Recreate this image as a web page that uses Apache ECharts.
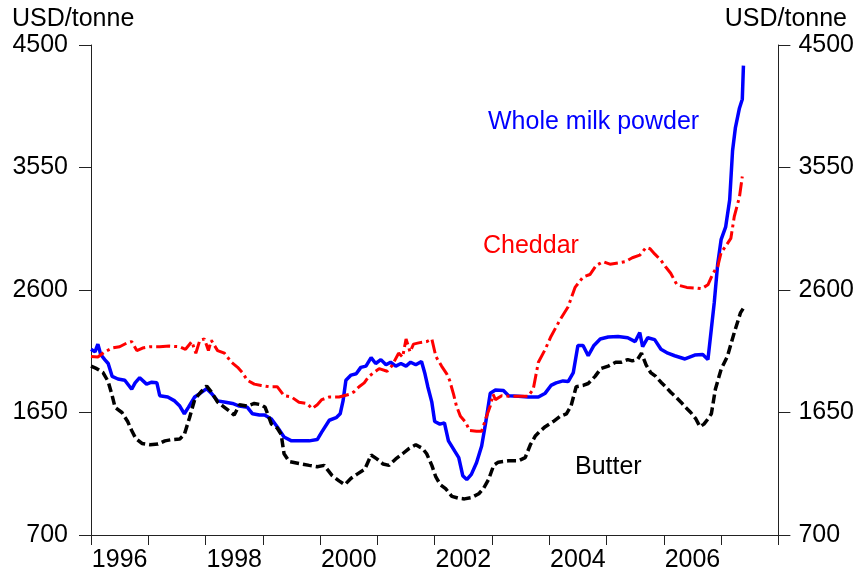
<!DOCTYPE html>
<html>
<head>
<meta charset="utf-8">
<script src="https://cdn.jsdelivr.net/npm/echarts@6/dist/echarts.min.js"></script>
<style>
html,body{margin:0;padding:0;background:#fff;}
#chart{width:857px;height:573px;}
</style>
</head>
<body>
<div id="chart"></div>
<script>
// Year categories shown on the axis (labels every other year)
const yearCategories = ['1996','1997','1998','1999','2000','2001','2002','2003','2004','2005','2006','2007'];
const yTicks = [700, 1650, 2600, 3550, 4500];

// Whole milk powder (USD/tonne)
const wmpYears = [1996.00,1996.07,1996.12,1996.17,1996.24,1996.30,1996.37,1996.47,1996.59,1996.71,1996.77,1996.85,1996.97,1997.06,1997.15,1997.20,1997.34,1997.46,1997.55,1997.63,1997.70,1997.81,1997.91,1998.02,1998.10,1998.21,1998.35,1998.47,1998.59,1998.73,1998.82,1998.94,1999.03,1999.15,1999.25,1999.37,1999.50,1999.63,1999.81,1999.95,2000.03,2000.16,2000.28,2000.35,2000.40,2000.45,2000.54,2000.63,2000.71,2000.80,2000.89,2000.97,2001.06,2001.15,2001.23,2001.32,2001.41,2001.50,2001.58,2001.67,2001.77,2001.83,2001.88,2001.95,2002.00,2002.09,2002.17,2002.24,2002.35,2002.42,2002.49,2002.56,2002.64,2002.73,2002.82,2002.89,2002.97,2003.06,2003.20,2003.29,2003.46,2003.63,2003.81,2003.93,2004.03,2004.12,2004.24,2004.33,2004.42,2004.50,2004.59,2004.68,2004.78,2004.89,2005.03,2005.20,2005.37,2005.50,2005.58,2005.63,2005.72,2005.84,2005.95,2006.07,2006.19,2006.37,2006.54,2006.68,2006.77,2006.83,2006.88,2006.94,2007.00,2007.08,2007.15,2007.20,2007.25,2007.32,2007.37,2007.39];
const wmpValues = [2140,2120,2180,2100,2060,2030,1930,1910,1900,1830,1880,1920,1870,1885,1880,1780,1770,1740,1700,1640,1690,1770,1800,1835,1800,1740,1730,1720,1700,1690,1640,1630,1630,1600,1540,1460,1430,1430,1430,1440,1500,1590,1610,1640,1740,1900,1940,1950,2000,2010,2075,2030,2060,2020,2040,2010,2030,2010,2040,2020,2045,1950,1850,1730,1580,1560,1570,1430,1350,1300,1160,1130,1170,1260,1390,1570,1800,1825,1820,1780,1776,1770,1770,1800,1860,1880,1895,1890,1960,2170,2170,2090,2170,2220,2235,2240,2230,2200,2270,2160,2230,2215,2140,2110,2090,2065,2095,2100,2060,2300,2500,2800,2990,3090,3300,3680,3860,4010,4080,4340];

// Cheddar (USD/tonne)
const cheddarYears = [1996.00,1996.12,1996.24,1996.37,1996.50,1996.63,1996.71,1996.80,1996.90,1997.03,1997.20,1997.37,1997.55,1997.65,1997.76,1997.83,1997.90,1997.98,1998.05,1998.10,1998.21,1998.33,1998.45,1998.56,1998.64,1998.73,1998.85,1998.97,1999.11,1999.25,1999.37,1999.50,1999.63,1999.77,1999.86,1999.95,2000.03,2000.16,2000.33,2000.50,2000.59,2000.68,2000.77,2000.85,2000.94,2001.03,2001.17,2001.25,2001.37,2001.44,2001.50,2001.57,2001.63,2001.72,2001.86,2001.95,2002.02,2002.12,2002.21,2002.26,2002.33,2002.38,2002.45,2002.54,2002.61,2002.73,2002.82,2002.89,2002.97,2003.02,2003.06,2003.17,2003.29,2003.46,2003.63,2003.72,2003.81,2003.93,2004.03,2004.19,2004.33,2004.45,2004.59,2004.71,2004.82,2004.94,2005.06,2005.20,2005.33,2005.45,2005.58,2005.69,2005.76,2005.84,2005.95,2006.03,2006.12,2006.23,2006.40,2006.57,2006.66,2006.77,2006.83,2006.90,2006.94,2007.00,2007.08,2007.17,2007.23,2007.32,2007.37];
const cheddarValues = [2085,2080,2120,2150,2160,2190,2200,2130,2150,2160,2160,2165,2160,2140,2200,2110,2210,2220,2130,2210,2130,2110,2040,2000,1960,1900,1870,1860,1850,1850,1780,1770,1730,1720,1680,1710,1750,1770,1770,1790,1810,1850,1880,1930,1960,1990,1970,2010,2110,2080,2220,2120,2180,2190,2200,2220,2085,2010,1950,1900,1790,1700,1620,1575,1510,1505,1505,1600,1700,1790,1750,1780,1776,1776,1776,1830,2040,2140,2240,2370,2470,2620,2700,2720,2790,2820,2800,2810,2820,2850,2870,2930,2920,2880,2830,2780,2730,2640,2620,2615,2610,2640,2700,2760,2780,2890,2940,3000,3170,3320,3480];

// Butter (USD/tonne)
const butterYears = [1996.00,1996.10,1996.21,1996.30,1996.37,1996.42,1996.54,1996.64,1996.71,1996.78,1996.89,1997.03,1997.17,1997.29,1997.41,1997.55,1997.63,1997.72,1997.81,1997.93,1998.02,1998.10,1998.21,1998.33,1998.42,1998.50,1998.59,1998.73,1998.85,1998.97,1999.04,1999.15,1999.25,1999.32,1999.37,1999.46,1999.63,1999.81,1999.95,2000.07,2000.21,2000.33,2000.43,2000.54,2000.64,2000.78,2000.89,2000.99,2001.10,2001.20,2001.32,2001.44,2001.55,2001.67,2001.79,2001.86,2001.95,2002.02,2002.10,2002.19,2002.30,2002.42,2002.52,2002.64,2002.77,2002.85,2002.94,2003.03,2003.11,2003.29,2003.46,2003.58,2003.67,2003.76,2003.84,2003.93,2004.07,2004.19,2004.30,2004.38,2004.47,2004.59,2004.68,2004.80,2004.90,2005.03,2005.16,2005.26,2005.37,2005.45,2005.54,2005.61,2005.69,2005.77,2005.86,2005.95,2006.03,2006.12,2006.21,2006.30,2006.38,2006.47,2006.56,2006.63,2006.70,2006.77,2006.83,2006.90,2007.00,2007.11,2007.23,2007.34,2007.39];
const butterValues = [2010,1990,1960,1890,1780,1690,1650,1580,1510,1450,1410,1400,1405,1430,1440,1445,1480,1610,1750,1815,1855,1810,1730,1690,1660,1630,1710,1700,1720,1710,1690,1560,1530,1480,1330,1270,1255,1240,1230,1240,1160,1120,1090,1140,1170,1210,1320,1290,1250,1240,1290,1330,1370,1400,1370,1330,1240,1150,1090,1060,1000,985,980,990,1020,1060,1130,1240,1265,1275,1275,1300,1400,1470,1505,1540,1580,1620,1640,1700,1850,1860,1875,1930,1990,2010,2040,2040,2060,2050,2060,2110,2020,1960,1930,1885,1850,1807,1770,1730,1690,1650,1600,1540,1560,1600,1640,1830,1985,2085,2270,2425,2460];

const FONT = 'Liberation Sans, Arial, sans-serif';
const pair = (xs, ys) => xs.map((x, i) => [x, ys[i]]);

const chart = echarts.init(document.getElementById('chart'), null, {renderer: 'canvas'});

const yAxisCommon = {
  type: 'value', min: yTicks[0], max: yTicks[yTicks.length - 1], interval: 950,
  splitLine: {show: false},
  axisLine: {show: true, lineStyle: {color: '#222', width: 1}},
  axisTick: {show: true, inside: false, length: 12, lineStyle: {color: '#222', width: 1}},
  axisLabel: {color: '#000', fontSize: 25, fontFamily: FONT, formatter: v => String(v)}
};

chart.setOption({
  animation: false,
  backgroundColor: '#fff',
  grid: {left: 91, right: 77, top: 45, bottom: 37, containLabel: false},
  xAxis: [
    {type: 'value', min: 1996, max: 2008, show: false},
    {type: 'category', data: yearCategories, boundaryGap: true, position: 'bottom',
     axisLine: {show: true, lineStyle: {color: '#222', width: 1}},
     axisTick: {show: true, interval: 0, length: 10, alignWithLabel: false, lineStyle: {color: '#222', width: 1}},
     axisLabel: {interval: 1, margin: 13, color: '#000', fontSize: 25, fontFamily: FONT},
     splitLine: {show: false}}
  ],
  yAxis: [
    Object.assign({}, yAxisCommon, {position: 'left', axisLabel: Object.assign({}, yAxisCommon.axisLabel, {margin: 23})}),
    Object.assign({}, yAxisCommon, {position: 'right', axisLabel: Object.assign({}, yAxisCommon.axisLabel, {margin: 20})})
  ],
  series: [
    {name: 'Whole milk powder', type: 'line', xAxisIndex: 0, yAxisIndex: 0, showSymbol: false,
     data: pair(wmpYears, wmpValues), lineStyle: {color: '#0000FF', width: 3.5}, z: 2},
    {name: 'Cheddar', type: 'line', xAxisIndex: 0, yAxisIndex: 0, showSymbol: false,
     data: pair(cheddarYears, cheddarValues), lineStyle: {color: '#FF0000', width: 3, type: [14, 4, 3, 4]}, z: 3},
    {name: 'Butter', type: 'line', xAxisIndex: 0, yAxisIndex: 0, showSymbol: false,
     data: pair(butterYears, butterValues), lineStyle: {color: '#000000', width: 3.5, type: [9, 4]}, z: 4}
  ],
  graphic: [
    {type: 'text', left: 12, top: 7, style: {text: 'USD/tonne', font: '25px ' + FONT, fill: '#000'}},
    {type: 'text', right: 10, top: 7, style: {text: 'USD/tonne', font: '25px ' + FONT, fill: '#000'}},
    {type: 'text', left: 488, top: 110, style: {text: 'Whole milk powder', font: '25px ' + FONT, fill: '#0000FF'}},
    {type: 'text', left: 483, top: 234, style: {text: 'Cheddar', font: '25px ' + FONT, fill: '#FF0000'}},
    {type: 'text', left: 575, top: 455, style: {text: 'Butter', font: '25px ' + FONT, fill: '#000'}}
  ]
});
</script>
</body>
</html>
